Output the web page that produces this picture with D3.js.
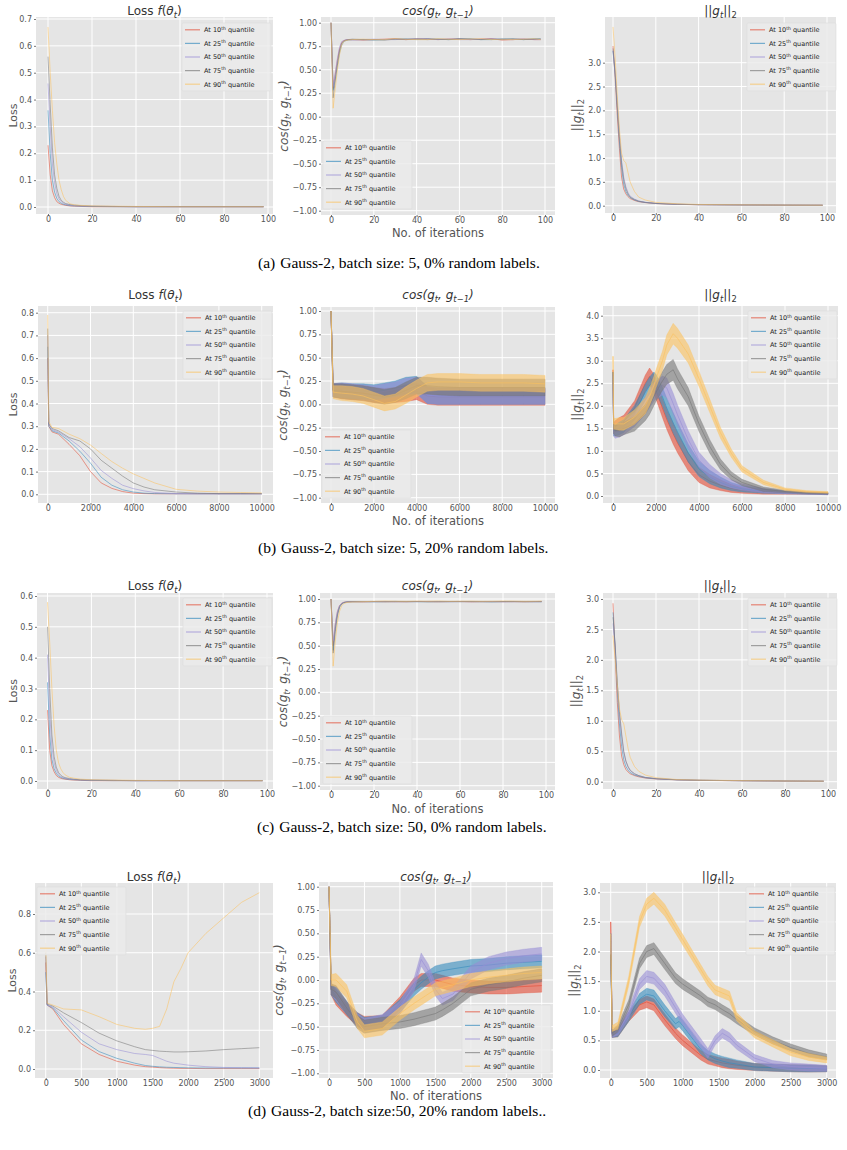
<!DOCTYPE html>
<meta charset="utf-8">
<style>
body { margin: 0; background: #fff; }
svg text { font-family: "DejaVu Sans", sans-serif; }
.caption { font-family: "Liberation Serif", "Times New Roman", serif; font-size: 15.5px; fill: #000; }
</style>
<body>
<script src="https://cdn.jsdelivr.net/npm/d3@7"></script>
<script>

// ---- data ----
var quantiles = ["10", "25", "50", "75", "90"];
var colors = ["#E24A33", "#348ABD", "#988ED5", "#777777", "#FBC15E"];

// rows (a) and (c): 100 iterations
var itersA = [0, 1, 2, 3, 4, 5, 6, 7, 8, 10, 12, 15, 20, 30, 40, 60, 80, 98];
var cosIters = [0, 1, 2, 3, 4, 5, 6, 7, 8, 10, 15, 20, 25, 30, 35, 40, 45, 50, 55, 60, 65, 70, 75, 80, 85, 90, 95, 98];

var lossA = [
  [0.23, 0.12, 0.06, 0.035, 0.02, 0.014, 0.01, 0.008, 0.006, 0.004, 0.003, 0.002, 0.001, 0.001, 0.001, 0.001, 0.001, 0.001],
  [0.36, 0.2, 0.1, 0.055, 0.032, 0.02, 0.014, 0.01, 0.008, 0.005, 0.004, 0.003, 0.002, 0.001, 0.001, 0.001, 0.001, 0.001],
  [0.46, 0.3, 0.16, 0.09, 0.05, 0.03, 0.02, 0.014, 0.01, 0.007, 0.005, 0.004, 0.003, 0.002, 0.001, 0.001, 0.001, 0.001],
  [0.56, 0.38, 0.22, 0.12, 0.07, 0.04, 0.025, 0.018, 0.013, 0.009, 0.007, 0.005, 0.003, 0.002, 0.001, 0.001, 0.001, 0.001],
  [0.67, 0.5, 0.36, 0.24, 0.16, 0.1, 0.065, 0.04, 0.025, 0.012, 0.008, 0.006, 0.004, 0.003, 0.002, 0.001, 0.001, 0.001]
];
var cosA = [
  [1.0, 0.3, 0.45, 0.6, 0.72, 0.79, 0.81, 0.815, 0.82, 0.82, 0.815, 0.82, 0.825, 0.83, 0.82, 0.825, 0.83, 0.82, 0.825, 0.83, 0.82, 0.825, 0.83, 0.815, 0.82, 0.825, 0.82, 0.82],
  [1.0, 0.28, 0.4, 0.55, 0.68, 0.76, 0.8, 0.81, 0.815, 0.82, 0.82, 0.815, 0.82, 0.825, 0.83, 0.82, 0.83, 0.825, 0.82, 0.83, 0.825, 0.82, 0.82, 0.83, 0.825, 0.82, 0.83, 0.825],
  [1.0, 0.32, 0.47, 0.62, 0.74, 0.8, 0.81, 0.82, 0.82, 0.815, 0.82, 0.825, 0.82, 0.82, 0.825, 0.83, 0.825, 0.82, 0.83, 0.82, 0.82, 0.825, 0.83, 0.825, 0.82, 0.83, 0.82, 0.82],
  [1.0, 0.2, 0.38, 0.55, 0.7, 0.78, 0.805, 0.815, 0.82, 0.825, 0.82, 0.82, 0.815, 0.825, 0.82, 0.83, 0.82, 0.825, 0.82, 0.825, 0.83, 0.82, 0.825, 0.82, 0.83, 0.82, 0.825, 0.83],
  [1.0, 0.09, 0.3, 0.5, 0.66, 0.76, 0.8, 0.81, 0.815, 0.82, 0.825, 0.82, 0.82, 0.83, 0.825, 0.82, 0.82, 0.83, 0.825, 0.82, 0.825, 0.83, 0.82, 0.825, 0.82, 0.825, 0.83, 0.82]
];
var normA = [
  [3.35, 2.7, 1.9, 1.2, 0.6, 0.35, 0.25, 0.19, 0.15, 0.11, 0.085, 0.065, 0.045, 0.028, 0.02, 0.015, 0.012, 0.01],
  [3.25, 2.75, 2.05, 1.35, 0.8, 0.45, 0.3, 0.22, 0.17, 0.12, 0.09, 0.068, 0.047, 0.029, 0.021, 0.015, 0.012, 0.01],
  [3.25, 2.8, 2.15, 1.5, 0.95, 0.6, 0.4, 0.28, 0.2, 0.14, 0.1, 0.072, 0.05, 0.03, 0.022, 0.016, 0.012, 0.01],
  [3.3, 2.8, 2.1, 1.45, 0.9, 0.55, 0.36, 0.25, 0.18, 0.13, 0.095, 0.07, 0.048, 0.03, 0.022, 0.016, 0.012, 0.01],
  [3.75, 3.1, 2.3, 1.6, 1.1, 0.95, 0.9, 0.7, 0.5, 0.3, 0.18, 0.12, 0.07, 0.04, 0.026, 0.018, 0.013, 0.011]
];

var lossC = [
  [0.23, 0.1, 0.05, 0.03, 0.018, 0.012, 0.009, 0.007, 0.006, 0.004, 0.003, 0.002, 0.001, 0.001, 0.001, 0.001, 0.001, 0.001],
  [0.32, 0.15, 0.07, 0.04, 0.025, 0.016, 0.012, 0.009, 0.007, 0.005, 0.004, 0.003, 0.002, 0.001, 0.001, 0.001, 0.001, 0.001],
  [0.41, 0.22, 0.11, 0.06, 0.035, 0.022, 0.015, 0.011, 0.009, 0.006, 0.005, 0.004, 0.003, 0.002, 0.001, 0.001, 0.001, 0.001],
  [0.5, 0.3, 0.15, 0.08, 0.045, 0.028, 0.019, 0.014, 0.011, 0.008, 0.006, 0.004, 0.003, 0.002, 0.001, 0.001, 0.001, 0.001],
  [0.58, 0.45, 0.3, 0.18, 0.1, 0.06, 0.04, 0.028, 0.02, 0.012, 0.009, 0.006, 0.004, 0.003, 0.002, 0.001, 0.001, 0.001]
];
var cosC = [
  [1.0, 0.5, 0.72, 0.86, 0.93, 0.955, 0.965, 0.968, 0.97, 0.972, 0.97, 0.973, 0.971, 0.972, 0.97, 0.974, 0.972, 0.971, 0.973, 0.972, 0.97, 0.972, 0.973, 0.971, 0.972, 0.97, 0.973, 0.972],
  [1.0, 0.45, 0.68, 0.84, 0.92, 0.95, 0.962, 0.967, 0.97, 0.971, 0.973, 0.97, 0.972, 0.974, 0.971, 0.972, 0.97, 0.973, 0.972, 0.971, 0.973, 0.972, 0.97, 0.972, 0.973, 0.971, 0.972, 0.97],
  [1.0, 0.55, 0.75, 0.87, 0.93, 0.955, 0.965, 0.968, 0.97, 0.97, 0.972, 0.971, 0.973, 0.97, 0.972, 0.971, 0.974, 0.972, 0.97, 0.973, 0.971, 0.972, 0.972, 0.97, 0.971, 0.973, 0.97, 0.972],
  [1.0, 0.42, 0.65, 0.82, 0.91, 0.945, 0.96, 0.966, 0.969, 0.971, 0.97, 0.972, 0.97, 0.971, 0.973, 0.972, 0.971, 0.97, 0.972, 0.974, 0.972, 0.971, 0.97, 0.973, 0.972, 0.972, 0.971, 0.973],
  [1.0, 0.28, 0.55, 0.75, 0.87, 0.93, 0.95, 0.96, 0.965, 0.968, 0.972, 0.975, 0.978, 0.976, 0.975, 0.977, 0.976, 0.978, 0.975, 0.976, 0.977, 0.975, 0.976, 0.978, 0.977, 0.975, 0.976, 0.978]
];
var normC = [
  [2.93, 2.1, 1.3, 0.75, 0.42, 0.28, 0.2, 0.16, 0.13, 0.1, 0.08, 0.06, 0.045, 0.03, 0.022, 0.015, 0.01, 0.008],
  [2.78, 2.2, 1.5, 0.95, 0.58, 0.36, 0.25, 0.19, 0.15, 0.11, 0.09, 0.065, 0.048, 0.031, 0.023, 0.016, 0.011, 0.008],
  [2.6, 2.2, 1.6, 1.1, 0.75, 0.48, 0.33, 0.24, 0.18, 0.13, 0.1, 0.07, 0.05, 0.032, 0.024, 0.016, 0.011, 0.008],
  [2.7, 2.25, 1.62, 1.15, 0.8, 0.5, 0.34, 0.25, 0.19, 0.13, 0.1, 0.07, 0.05, 0.032, 0.024, 0.016, 0.011, 0.008],
  [2.4, 2.0, 1.6, 1.2, 1.02, 0.95, 0.75, 0.55, 0.4, 0.25, 0.17, 0.11, 0.065, 0.035, 0.026, 0.018, 0.012, 0.009]
];

// row (b): 10000 iterations
var lossItersB = [0, 50, 200, 500, 1000, 1500, 2000, 2500, 3000, 3500, 4000, 4500, 5000, 6000, 7000, 8000, 9000, 10000];
var lossB = [
  [0.6, 0.3, 0.275, 0.265, 0.22, 0.17, 0.1, 0.05, 0.026, 0.012, 0.005, 0.003, 0.002, 0.002, 0.002, 0.002, 0.002, 0.002],
  [0.65, 0.3, 0.28, 0.27, 0.235, 0.19, 0.137, 0.075, 0.04, 0.02, 0.01, 0.005, 0.003, 0.002, 0.002, 0.002, 0.002, 0.002],
  [0.7, 0.31, 0.285, 0.275, 0.245, 0.21, 0.16, 0.105, 0.07, 0.04, 0.025, 0.015, 0.008, 0.003, 0.002, 0.002, 0.002, 0.002],
  [0.73, 0.31, 0.29, 0.28, 0.25, 0.235, 0.2, 0.15, 0.115, 0.08, 0.05, 0.032, 0.02, 0.01, 0.005, 0.003, 0.003, 0.003],
  [0.79, 0.32, 0.295, 0.29, 0.265, 0.245, 0.217, 0.18, 0.144, 0.115, 0.09, 0.07, 0.05, 0.022, 0.014, 0.01, 0.008, 0.006]
];
var cosItersB = [0, 100, 500, 1000, 1500, 2000, 2500, 3000, 3500, 4000, 4500, 5000, 6000, 7000, 8000, 9000, 10000];
var cosB = [
  [1.0, 0.15, 0.14, 0.13, 0.12, 0.1, 0.09, 0.1, 0.12, 0.14, 0.09, 0.08, 0.08, 0.08, 0.08, 0.08, 0.08],
  [1.0, 0.15, 0.15, 0.14, 0.14, 0.13, 0.15, 0.17, 0.2, 0.21, 0.1, 0.09, 0.09, 0.09, 0.09, 0.09, 0.09],
  [1.0, 0.15, 0.15, 0.14, 0.13, 0.12, 0.14, 0.16, 0.19, 0.2, 0.1, 0.09, 0.09, 0.09, 0.09, 0.09, 0.09],
  [1.0, 0.15, 0.14, 0.13, 0.12, 0.1, 0.08, 0.1, 0.15, 0.2, 0.2, 0.19, 0.18, 0.18, 0.18, 0.18, 0.18],
  [1.0, 0.13, 0.12, 0.11, 0.09, 0.05, 0.01, 0.03, 0.1, 0.17, 0.23, 0.24, 0.24, 0.23, 0.23, 0.23, 0.22]
];
var cosSpreadB = [0, 0.07, 0.08, 0.08, 0.08, 0.08, 0.08, 0.08, 0.09, 0.09, 0.09, 0.09, 0.09, 0.09, 0.09, 0.09, 0.09];
var normItersB = [0, 30, 100, 300, 500, 1000, 1500, 1700, 1900, 2000, 2300, 2500, 2800, 3000, 3500, 4000, 4500, 5000, 5500, 6000, 7000, 8000, 9000, 10000];
var normB = [
  [2.8, 1.5, 1.55, 1.6, 1.65, 1.95, 2.5, 2.65, 2.5, 2.35, 1.95, 1.7, 1.38, 1.18, 0.76, 0.47, 0.33, 0.24, 0.17, 0.13, 0.09, 0.07, 0.06, 0.05],
  [2.75, 1.45, 1.45, 1.5, 1.55, 1.85, 2.3, 2.45, 2.55, 2.5, 2.2, 1.95, 1.62, 1.42, 0.95, 0.6, 0.42, 0.3, 0.21, 0.16, 0.11, 0.08, 0.06, 0.05],
  [2.7, 1.45, 1.4, 1.45, 1.5, 1.7, 2.0, 2.15, 2.3, 2.35, 2.45, 2.4, 2.05, 1.8, 1.25, 0.8, 0.55, 0.38, 0.27, 0.2, 0.12, 0.08, 0.06, 0.05],
  [2.75, 1.5, 1.45, 1.45, 1.5, 1.6, 1.85, 2.0, 2.2, 2.3, 2.55, 2.7, 2.8, 2.6, 2.2, 1.6, 1.1, 0.7, 0.45, 0.3, 0.15, 0.1, 0.07, 0.06],
  [3.1, 1.6, 1.6, 1.6, 1.6, 1.75, 2.0, 2.2, 2.45, 2.6, 3.0, 3.35, 3.6, 3.5, 3.15, 2.6, 2.0, 1.4, 0.95, 0.6, 0.3, 0.15, 0.1, 0.08]
];
var normSpreadB = [0, 0.12, 0.12, 0.14, 0.14, 0.16, 0.18, 0.19, 0.2, 0.2, 0.21, 0.22, 0.23, 0.22, 0.2, 0.17, 0.15, 0.12, 0.09, 0.07, 0.05, 0.03, 0.02, 0.02];

// row (d): 3000 iterations
var lossItersD = [0, 20, 100, 250, 500, 750, 1000, 1250, 1400, 1500, 1600, 1700, 1800, 1900, 2000, 2250, 2500, 2750, 3000];
var lossD = [
  [0.55, 0.33, 0.31, 0.23, 0.13, 0.075, 0.04, 0.02, 0.012, 0.01, 0.007, 0.005, 0.004, 0.003, 0.003, 0.002, 0.002, 0.002, 0.002],
  [0.5, 0.33, 0.315, 0.25, 0.15, 0.09, 0.055, 0.03, 0.018, 0.014, 0.011, 0.009, 0.008, 0.007, 0.006, 0.005, 0.005, 0.005, 0.005],
  [0.58, 0.33, 0.32, 0.27, 0.19, 0.13, 0.1, 0.08, 0.075, 0.07, 0.055, 0.04, 0.03, 0.025, 0.02, 0.012, 0.008, 0.007, 0.006],
  [0.6, 0.335, 0.325, 0.29, 0.24, 0.185, 0.145, 0.115, 0.1, 0.096, 0.092, 0.09, 0.088, 0.088, 0.089, 0.093, 0.1, 0.105, 0.11],
  [0.65, 0.34, 0.33, 0.31, 0.305, 0.27, 0.23, 0.21, 0.205, 0.21, 0.22, 0.31, 0.45, 0.52, 0.6, 0.7, 0.78, 0.86, 0.91]
];
var cosItersD = [0, 30, 100, 250, 400, 500, 750, 1000, 1200, 1300, 1400, 1500, 1600, 1750, 2000, 2250, 2500, 2750, 3000];
var cosD = [
  [1.0, -0.1, -0.2, -0.32, -0.42, -0.46, -0.45, -0.25, -0.05, 0.0, 0.0, 0.0, -0.02, -0.05, -0.07, -0.08, -0.08, -0.07, -0.06],
  [1.0, -0.1, -0.17, -0.3, -0.42, -0.47, -0.45, -0.28, -0.1, -0.03, 0.03, 0.08, 0.1, 0.12, 0.15, 0.16, 0.18, 0.19, 0.2],
  [1.0, -0.1, -0.15, -0.3, -0.43, -0.48, -0.44, -0.3, -0.05, 0.22, 0.1, -0.1, -0.2, -0.15, 0.08, 0.18, 0.23, 0.26, 0.28],
  [1.0, -0.1, -0.13, -0.3, -0.45, -0.5, -0.47, -0.45, -0.42, -0.4, -0.38, -0.36, -0.32, -0.25, -0.1, -0.05, -0.02, 0.02, 0.05],
  [1.0, 0.0, 0.0, -0.12, -0.45, -0.55, -0.52, -0.36, -0.25, -0.2, -0.15, -0.1, -0.08, -0.05, 0.0, 0.03, 0.05, 0.07, 0.08]
];
var cosSpreadD = [0, 0.06, 0.07, 0.07, 0.07, 0.07, 0.07, 0.07, 0.07, 0.07, 0.07, 0.07, 0.07, 0.07, 0.07, 0.07, 0.07, 0.07, 0.07];
var normItersD = [0, 20, 100, 250, 400, 500, 600, 750, 900, 950, 1000, 1250, 1350, 1450, 1550, 1650, 1750, 2000, 2250, 2500, 2750, 3000];
var normD = [
  [2.5, 0.6, 0.62, 0.9, 1.1, 1.15, 1.1, 0.85, 0.62, 0.56, 0.5, 0.25, 0.18, 0.15, 0.12, 0.1, 0.08, 0.05, 0.04, 0.03, 0.025, 0.02],
  [2.3, 0.6, 0.62, 0.9, 1.2, 1.28, 1.25, 1.0, 0.78, 0.82, 0.75, 0.35, 0.25, 0.19, 0.15, 0.12, 0.1, 0.05, 0.04, 0.03, 0.025, 0.02],
  [2.3, 0.6, 0.65, 0.95, 1.45, 1.58, 1.55, 1.35, 1.05, 0.95, 0.85, 0.45, 0.28, 0.5, 0.62, 0.55, 0.42, 0.2, 0.1, 0.06, 0.04, 0.03],
  [1.95, 0.62, 0.7, 1.1, 1.8, 2.0, 2.05, 1.8, 1.55, 1.5, 1.45, 1.25, 1.15, 1.1, 1.02, 0.95, 0.85, 0.65, 0.5, 0.38, 0.28, 0.22],
  [2.3, 0.7, 0.75, 1.5, 2.5, 2.8, 2.9, 2.7, 2.4, 2.3, 2.2, 1.7, 1.5, 1.35, 1.3, 1.25, 0.9, 0.6, 0.45, 0.3, 0.22, 0.17]
];
var normSpreadD = [0, 0.05, 0.06, 0.08, 0.09, 0.1, 0.1, 0.1, 0.09, 0.09, 0.09, 0.08, 0.08, 0.08, 0.08, 0.08, 0.07, 0.06, 0.06, 0.06, 0.06, 0.05];

var captions = [
  ["(a)", "Gauss-2, batch size: 5, 0% random labels."],
  ["(b)", "Gauss-2, batch size: 5, 20% random labels."],
  ["(c)", "Gauss-2, batch size: 50, 0% random labels."],
  ["(d)", "Gauss-2, batch size:50, 20% random labels.."]
];

// ---- text pieces (mathtext-like) ----
var lossTitle = [{t: "Loss "}, {t: "f", it: 1}, {t: "("}, {t: "θ", it: 1}, {t: "t", it: 1, sub: 1}, {t: ")"}];
var cosTitle = [{t: "cos(g", it: 1}, {t: "t", it: 1, sub: 1}, {t: ", g", it: 1}, {t: "t−1", it: 1, sub: 1}, {t: ")", it: 1}];
var normTitle = [{t: "||"}, {t: "g", it: 1}, {t: "t", it: 1, sub: 1}, {t: "||"}, {t: "2", sub: 1}];

var svg = d3.select("body").append("svg")
  .attr("width", 847).attr("height", 1150);

function richText(g, x, y, size, parts, anchor) {
  var t = g.append("text").attr("x", x).attr("y", y)
    .attr("font-size", size).attr("fill", "#333")
    .attr("text-anchor", anchor || "middle");
  var shift = 0;
  parts.forEach(function(p) {
    var s = t.append("tspan").text(p.t);
    var target = p.sub ? size * 0.28 : (p.sup ? -size * 0.38 : 0);
    if (target !== shift) { s.attr("dy", target - shift); shift = target; }
    if (p.sub || p.sup) s.attr("font-size", size * 0.7);
    if (p.it) s.attr("font-style", "italic");
  });
  return t;
}

var panels = [
  // row a
  {box: [36, 273, 17, 214], xa: [0, 48, 100, 268], ya: [0, 207, 0.7, 19], xt: d3.range(0, 101, 20), yt: d3.range(0, 0.71, 0.1), yf: ".1f",
   x: itersA, ys: lossA, title: lossTitle, ylab: [{t: "Loss"}], ylx: 13, ty: 15, leg: [182, 23]},
  {box: [321, 555, 17, 215], xa: [0, 331, 100, 545], ya: [-1, 210.7, 1, 22.7], xt: d3.range(0, 101, 20), yt: d3.range(-1, 1.01, 0.25), yf: ".2f",
   x: cosIters, ys: cosA, title: cosTitle, ylab: cosTitle, ylx: 284, ty: 15, leg: [323, 141], xlab: 237},
  {box: [605, 836, 17, 213], xa: [0, 613, 100, 827], ya: [0, 205.7, 3, 62.7], xt: d3.range(0, 101, 20), yt: d3.range(0, 3.01, 0.5), yf: ".1f",
   x: itersA, ys: normA, title: normTitle, ylab: normTitle, ylx: 577, ty: 15, leg: [747, 23]},
  // row b
  {box: [38, 273, 306, 503], xa: [0, 47.7, 10000, 261.7], ya: [0, 494.3, 0.8, 312.7], xt: d3.range(0, 10001, 2000), yt: d3.range(0, 0.81, 0.1), yf: ".1f",
   x: lossItersB, ys: lossB, title: lossTitle, ylab: [{t: "Loss"}], ylx: 13, ty: 299, leg: [183, 311]},
  {box: [321, 555, 307, 503], xa: [0, 331, 10000, 545], ya: [-1, 497.7, 1, 311], xt: d3.range(0, 10001, 2000), yt: d3.range(-1, 1.01, 0.25), yf: ".2f",
   x: cosItersB, ys: cosB, spread: cosSpreadB, title: cosTitle, ylab: cosTitle, ylx: 283, ty: 299, leg: [322, 430], xlab: 524.5},
  {box: [603, 838, 306, 503], xa: [0, 613, 10000, 828], ya: [0, 496, 4, 315.7], xt: d3.range(0, 10001, 2000), yt: d3.range(0, 4.01, 0.5), yf: ".1f",
   x: normItersB, ys: normB, spread: normSpreadB, title: normTitle, ylab: normTitle, ylx: 577, ty: 299, leg: [748, 311]},
  // row c
  {box: [37, 273, 593, 789], xa: [0, 47.5, 100, 267], ya: [0, 781, 0.6, 596], xt: d3.range(0, 101, 20), yt: d3.range(0, 0.61, 0.1), yf: ".1f",
   x: itersA, ys: lossC, title: lossTitle, ylab: [{t: "Loss"}], ylx: 13, ty: 590, leg: [183, 598]},
  {box: [320, 555, 593, 790], xa: [0, 331, 100, 546], ya: [-1, 785.7, 1, 599], xt: d3.range(0, 101, 20), yt: d3.range(-1, 1.01, 0.25), yf: ".2f",
   x: cosIters, ys: cosC, title: cosTitle, ylab: cosTitle, ylx: 283, ty: 590, leg: [323, 716], xlab: 813},
  {box: [603, 837, 593, 789], xa: [0, 613, 100, 828], ya: [0, 781.7, 3, 599], xt: d3.range(0, 101, 20), yt: d3.range(0, 3.01, 0.5), yf: ".1f",
   x: itersA, ys: normC, title: normTitle, ylab: normTitle, ylx: 576, ty: 590, leg: [748, 598]},
  // row d
  {box: [35, 273, 883, 1078], xa: [0, 45.7, 3000, 259.3], ya: [0, 1069, 0.8, 914], xt: d3.range(0, 3001, 500), yt: d3.range(0, 0.81, 0.2), yf: ".1f",
   x: lossItersD, ys: lossD, title: lossTitle, ylab: [{t: "Loss"}], ylx: 12, ty: 881, leg: [37, 887]},
  {box: [319, 553, 882, 1078], xa: [0, 329, 3000, 541.7], ya: [-1, 1073.3, 1, 886.7], xt: d3.range(0, 3001, 500), yt: d3.range(-1, 1.01, 0.25), yf: ".2f",
   x: cosItersD, ys: cosD, spread: cosSpreadD, title: cosTitle, ylab: cosTitle, ylx: 279, ty: 881, leg: [462, 1005], xlab: 1099.5},
  {box: [600, 836, 883, 1078], xa: [0, 610.7, 3000, 826.7], ya: [0, 1070, 3, 892.3], xt: d3.range(0, 3001, 500), yt: d3.range(0, 3.01, 0.5), yf: ".1f",
   x: normItersD, ys: normD, spread: normSpreadD, title: normTitle, ylab: normTitle, ylx: 574, ty: 881, leg: [746, 887]}
];

panels.forEach(function(p, pi) {
  var L = p.box[0], R = p.box[1], T = p.box[2], B = p.box[3];
  var x = d3.scaleLinear().domain([p.xa[0], p.xa[2]]).range([p.xa[1], p.xa[3]]);
  var y = d3.scaleLinear().domain([p.ya[0], p.ya[2]]).range([p.ya[1], p.ya[3]]);
  var g = svg.append("g");

  g.append("rect").attr("x", L).attr("y", T).attr("width", R - L).attr("height", B - T).attr("fill", "#E5E5E5");

  // grid
  g.selectAll(".gx").data(p.xt).enter().append("line")
    .attr("x1", function(d) { return x(d); }).attr("x2", function(d) { return x(d); })
    .attr("y1", T).attr("y2", B).attr("stroke", "#fff").attr("stroke-width", 1);
  g.selectAll(".gy").data(p.yt).enter().append("line")
    .attr("y1", function(d) { return y(d); }).attr("y2", function(d) { return y(d); })
    .attr("x1", L).attr("x2", R).attr("stroke", "#fff").attr("stroke-width", 1);

  // axes
  var ax = g.append("g").attr("transform", "translate(0," + B + ")")
    .call(d3.axisBottom(x).tickValues(p.xt).tickSize(2).tickPadding(1.5).tickFormat(d3.format("d")));
  var ay = g.append("g").attr("transform", "translate(" + L + ",0)")
    .call(d3.axisLeft(y).tickValues(p.yt).tickSize(2).tickPadding(2).tickFormat(d3.format(p.yf)));
  [ax, ay].forEach(function(a) {
    a.select(".domain").remove();
    a.selectAll("line").attr("stroke", "#777");
    a.selectAll("text").attr("fill", "#555").attr("font-size", 8).attr("font-family", "DejaVu Sans");
    a.attr("font-family", null);
  });
  ax.selectAll("text").attr("dy", "0.6em");

  // data
  var clipId = "clip" + pi;
  g.append("clipPath").attr("id", clipId).append("rect")
    .attr("x", L).attr("y", T).attr("width", R - L).attr("height", B - T);
  var plot = g.append("g").attr("clip-path", "url(#" + clipId + ")");
  p.ys.forEach(function(vals, qi) {
    if (p.spread) {
      var area = d3.area()
        .x(function(d, i) { return x(p.x[i]); })
        .y0(function(d, i) { return y(d - p.spread[i]); })
        .y1(function(d, i) { return y(d + p.spread[i]); });
      plot.append("path").datum(vals).attr("d", area)
        .attr("fill", colors[qi]).attr("fill-opacity", 0.6)
        .attr("stroke", colors[qi]).attr("stroke-opacity", 0.5).attr("stroke-width", 0.6);
    }
    var line = d3.line().x(function(d, i) { return x(p.x[i]); }).y(function(d) { return y(d); });
    plot.append("path").datum(vals).attr("d", line)
      .attr("fill", "none").attr("stroke", colors[qi])
      .attr("stroke-opacity", p.spread ? 0.6 : 0.55).attr("stroke-width", 1);
  });

  // legend
  var lx = p.leg[0], ly = p.leg[1];
  g.append("rect").attr("x", lx).attr("y", ly).attr("width", 89).attr("height", 68)
    .attr("fill", "#EBEBEB").attr("fill-opacity", 0.85).attr("stroke", "#DCDCDC").attr("stroke-width", 0.6).attr("rx", 1.5);
  quantiles.forEach(function(q, i) {
    var yy = ly + 6.8 + i * 13.6;
    g.append("line").attr("x1", lx + 3).attr("x2", lx + 18).attr("y1", yy).attr("y2", yy)
      .attr("stroke", colors[i]).attr("stroke-opacity", 0.65).attr("stroke-width", 1.2);
    richText(g, lx + 22, yy + 2.3, 6.5, [{t: "At " + q}, {t: "th", sup: 1}, {t: " quantile"}], "start")
      .attr("fill", "#222");
  });

  // title and labels
  richText(g, (L + R) / 2, p.ty, 12, p.title);
  var yl = g.append("g").attr("transform", "translate(" + (p.ylx + 4) + "," + ((T + B) / 2) + ") rotate(-90)");
  richText(yl, 0, 0, p.ylab.length > 1 ? 12 : 11, p.ylab).attr("fill", "#555");
  if (p.xlab) {
    g.append("text").attr("x", (L + R) / 2).attr("y", p.xlab).attr("text-anchor", "middle")
      .attr("font-size", 11.5).attr("fill", "#555").text("No. of iterations");
  }
});

// sub-figure captions
var capY = [268, 553, 832, 1116];
var capX = [258, 258, 257, 248];
captions.forEach(function(c, i) {
  var t = svg.append("text").attr("class", "caption").attr("x", capX[i]).attr("y", capY[i]);
  t.append("tspan").text(c[0]);
  t.append("tspan").attr("dx", 5).text(c[1]);
});

</script>
</body>
